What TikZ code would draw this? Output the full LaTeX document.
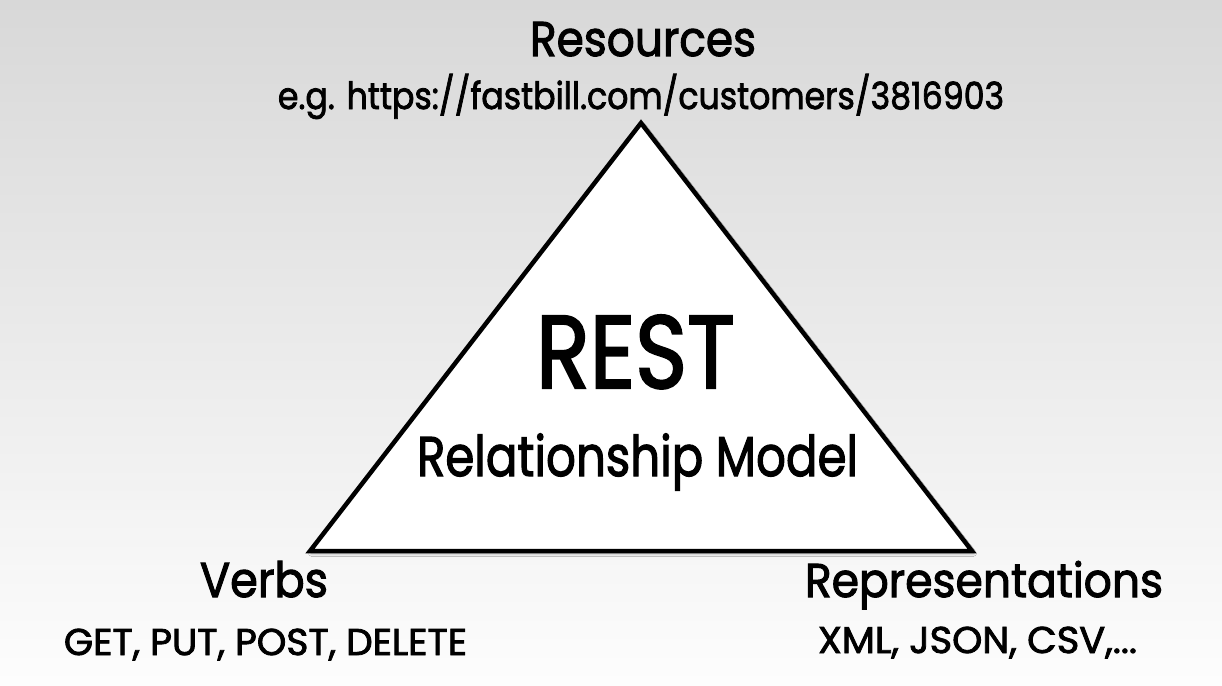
\documentclass[tikz,border=0pt]{standalone}
\usepackage{fontspec}
\setmainfont{Poppins}[FakeBold=2.2]
\newfontfamily\heavy{Poppins}[FakeBold=2.2]
\usepackage{graphicx}
\usetikzlibrary{shadows.blur}
\definecolor{bgtop}{RGB}{216,216,216}
\definecolor{bgbot}{RGB}{253,253,253}
\newcommand{\fitt}[3]{\resizebox{#1pt}{#2pt}{\heavy\smash{#3}\vphantom{X}}}
\tikzset{
  lbl/.style={anchor=base, inner sep=0pt, outer sep=0pt, text=black},
  tri/.style={draw=black, fill=white, line width=4.5pt, line join=miter,
    blur shadow={shadow xshift=1.5pt, shadow yshift=-2.5pt, shadow blur radius=3pt, shadow opacity=35}}
}
\begin{document}
\begin{tikzpicture}[x=1pt,y=-1pt]
\useasboundingbox (0,0) rectangle (1222,685);
\shade[top color=bgtop, bottom color=bgbot] (0,0) rectangle (1222,685);
\coordinate (apex) at (641,123);
\coordinate (bl) at (310,551);
\coordinate (br) at (972,551);
\path[tri] (apex) -- (br) -- (bl) -- cycle;
\node[lbl] (res) at (643,56) {\fitt{226}{34}{Resources}};
\node[lbl] (resex) at (641,109) {\fitt{726}{26}{e.g. https://fastbill.com/customers/3816903}};
\node[lbl] (rest) at (635.5,388) {\fitt{199}{72}{REST}};
\node[lbl] (rel) at (637.5,476) {\fitt{441}{39}{Relationship Model}};
\node[lbl] (verbs) at (264,597) {\fitt{128}{34}{Verbs}};
\node[lbl] (verbsex) at (265.5,655) {\fitt{403}{26}{GET, PUT, POST, DELETE}};
\node[lbl] (repr) at (984,597) {\fitt{358}{33}{Representations}};
\node[lbl] (reprex) at (977.5,653) {\fitt{319}{26}{XML, JSON, CSV,...}};
\end{tikzpicture}
\end{document}
